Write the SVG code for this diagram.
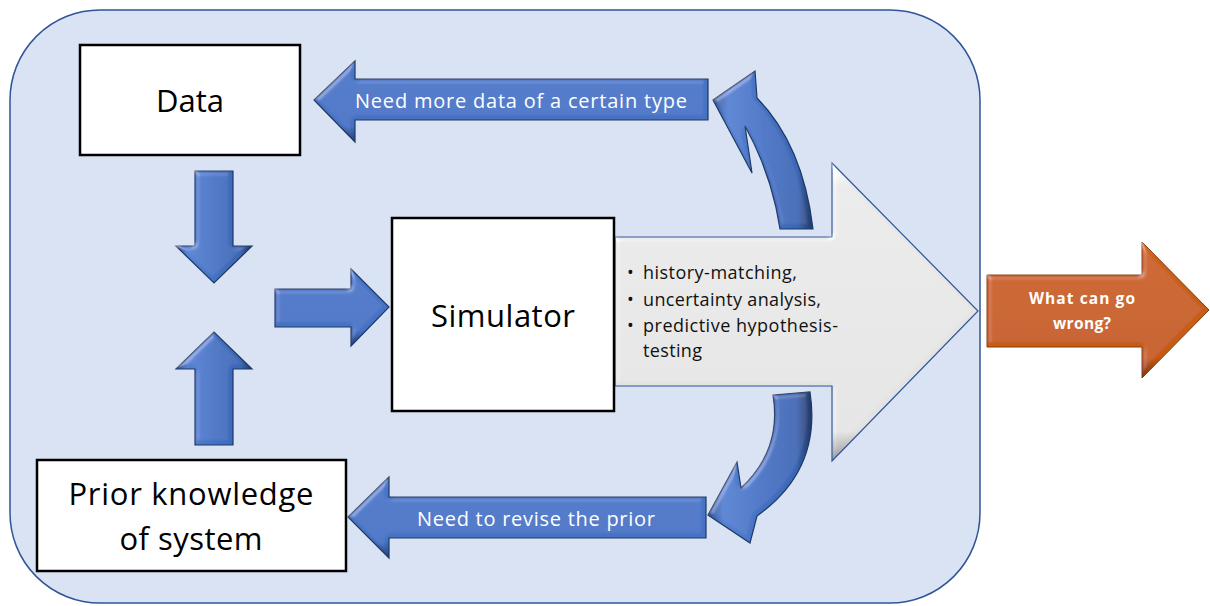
<svg xmlns="http://www.w3.org/2000/svg" width="1210" height="606" viewBox="0 0 1210 606">
<defs>
<linearGradient id="blueV" x1="0" y1="0" x2="1" y2="0">
<stop offset="0" stop-color="#2f5597"/><stop offset="0.15" stop-color="#5581d0"/><stop offset="0.5" stop-color="#4472c4"/><stop offset="0.85" stop-color="#3b66b4"/><stop offset="1" stop-color="#1f3864"/>
</linearGradient>
<linearGradient id="blueH" x1="0" y1="0" x2="0" y2="1">
<stop offset="0" stop-color="#5f8bd6"/><stop offset="0.15" stop-color="#4774c6"/><stop offset="0.8" stop-color="#4472c4"/><stop offset="1" stop-color="#243f75"/>
</linearGradient>
<linearGradient id="grey" x1="0" y1="0" x2="0" y2="1">
<stop offset="0" stop-color="#ffffff"/><stop offset="0.08" stop-color="#e8e8e8"/><stop offset="0.9" stop-color="#e2e2e2"/><stop offset="1" stop-color="#9a9a9a"/>
</linearGradient>
<linearGradient id="orange" x1="0" y1="0" x2="0" y2="1">
<stop offset="0" stop-color="#d8702a"/><stop offset="0.12" stop-color="#c95f18"/><stop offset="0.85" stop-color="#c55a11"/><stop offset="1" stop-color="#7a360a"/>
</linearGradient>
<filter id="bevel" x="-10%" y="-10%" width="120%" height="120%">
<feGaussianBlur in="SourceAlpha" stdDeviation="2.5" result="b"/>
<feSpecularLighting in="b" surfaceScale="3" specularConstant="0.6" specularExponent="20" lighting-color="#ffffff" result="s">
<feDistantLight azimuth="225" elevation="40"/>
</feSpecularLighting>
<feComposite in="s" in2="SourceAlpha" operator="in" result="s2"/>
<feComposite in="SourceGraphic" in2="s2" operator="arithmetic" k1="0" k2="1" k3="0.35" k4="0"/>
</filter>
</defs>
<style>
.box{fill:#ffffff;stroke:#000000;stroke-width:2.5}
.lbl{font-family:"Open Sans","Liberation Sans",sans-serif;fill:#000000;text-anchor:middle;font-size:31px}
.blue{fill:url(#blueH);stroke:#1f3864;stroke-width:1.2;filter:url(#bevel)}
.bluev{fill:url(#blueV);stroke:#1f3864;stroke-width:1.2;filter:url(#bevel)}
.wt{font-family:"Open Sans","Liberation Sans",sans-serif;fill:#ffffff;font-size:20px;text-anchor:middle}
.bl{font-family:"Open Sans","Liberation Sans",sans-serif;fill:#111111;font-size:18px}
.ow{font-family:"Open Sans","Liberation Sans",sans-serif;font-weight:bold;font-size:15.5px;fill:#ffffff;text-anchor:middle}
</style>
<rect id="background" x="10" y="10" width="970" height="593" rx="90" ry="90" fill="#dae3f3" stroke="#2f5597" stroke-width="1.5"/>

<g id="analysis">
<path d="M615,237 L832,237 L832,163 L978,311 L832,461 L832,386 L615,386 Z" fill="url(#grey)" stroke="#2f5597" stroke-width="1.2" filter="url(#bevel)"/>
<text class="bl"><tspan x="627" y="279">•</tspan><tspan x="643" y="279" textLength="154">history-matching,</tspan></text>
<text class="bl"><tspan x="627" y="306">•</tspan><tspan x="643" y="306" textLength="178">uncertainty analysis,</tspan></text>
<text class="bl"><tspan x="627" y="332">•</tspan><tspan x="643" y="332" textLength="195">predictive hypothesis-</tspan></text>
<text class="bl"><tspan x="643" y="357" textLength="59">testing</tspan></text>
</g>

<g id="data">
<rect class="box" x="80" y="45" width="220" height="110"/>
<text class="lbl" x="190" y="112">Data</text>
</g>

<g id="simulator">
<rect class="box" x="392" y="218" width="222" height="193"/>
<text class="lbl" x="503" y="327" textLength="144">Simulator</text>
</g>

<g id="prior">
<rect class="box" x="37" y="460" width="309" height="111"/>
<text class="lbl" x="191" y="505" textLength="245">Prior knowledge</text>
<text class="lbl" x="191" y="550" textLength="143">of system</text>
</g>

<g id="outcome">
<path d="M987,275 L1142,275 L1142,242 L1209,310 L1142,378 L1142,347 L987,347 Z" fill="url(#orange)" stroke="#843c0c" stroke-width="1" filter="url(#bevel)"/>
<text class="ow" x="1082" y="304" textLength="106">What can go</text>
<text class="ow" x="1082" y="329" textLength="58">wrong?</text>
</g>

<g id="connectors">
<path class="bluev" d="M195,171 L233,171 L233,246 L252,246 L214,283 L176,246 L195,246 Z"/>
<path class="bluev" d="M195,445 L233,445 L233,369 L252,369 L214,332 L176,369 L195,369 Z"/>
<path class="blue" d="M275,289 L351,289 L351,269 L389,307 L351,346 L351,327 L275,327 Z"/>
<path class="blue" d="M708,79 L355,79 L355,61 L314,100 L355,142 L355,120 L708,120 Z"/>
<text class="wt" x="521" y="108" textLength="332">Need more data of a certain type</text>
<path class="blue" d="M706,497 L389,497 L389,477 L348,517 L389,558 L389,538 L706,538 Z"/>
<text class="wt" x="536" y="526" textLength="238">Need to revise the prior</text>
<path class="bluev" d="M713,100 L755,71 L757,98 Q803,145 813,229 L780,229 Q772,175 745,126 L752,173 Z"/>
<path class="bluev" d="M773,395 L810,392 Q822,470 757,516 L750,543 L708,515 L737,462 L741,488 Q782,450 773,395 Z"/>
</g>
</svg>
